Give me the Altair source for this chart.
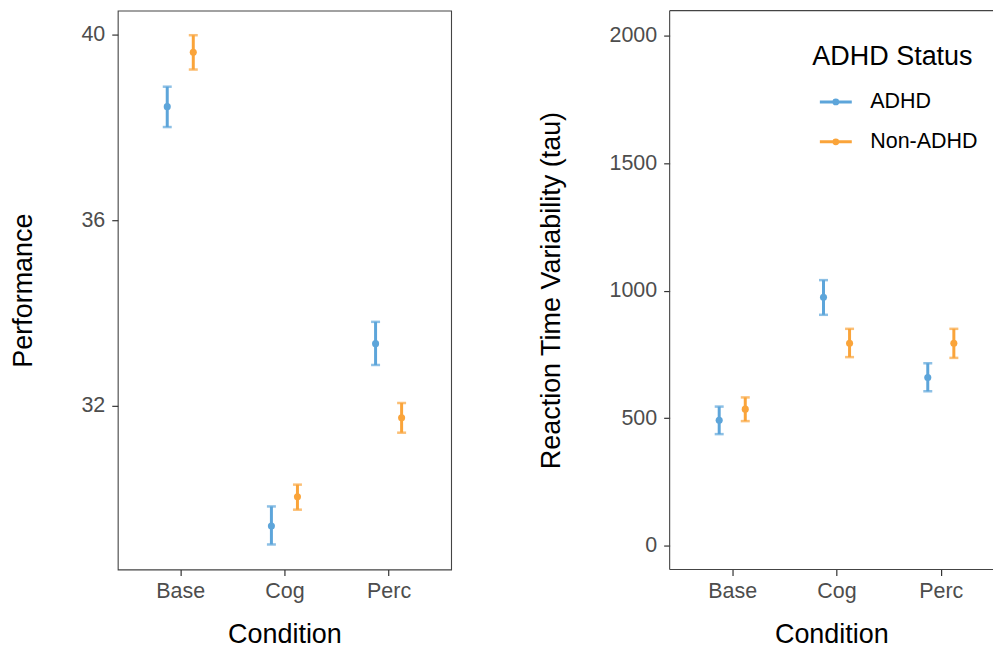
import altair as alt
import pandas as pd

conditions = ["Base", "Cog", "Perc"]
groups = ["ADHD", "Non-ADHD"]

perf_adhd_mean = [38.45, 29.41, 33.34]
perf_adhd_low = [38.01, 29.01, 32.88]
perf_adhd_high = [38.88, 29.83, 33.81]
perf_non_mean = [39.62, 30.04, 31.74]
perf_non_low = [39.25, 29.76, 31.42]
perf_non_high = [39.99, 30.30, 32.06]

rt_adhd_mean = [491, 974, 659]
rt_adhd_low = [437, 905, 605]
rt_adhd_high = [545, 1041, 715]
rt_non_mean = [535, 793, 793]
rt_non_low = [488, 739, 736]
rt_non_high = [581, 850, 850]

colors = ["#5DA5DA", "#FAA43A"]


def make_df(a_mean, a_low, a_high, n_mean, n_low, n_high):
    rows = []
    for i, c in enumerate(conditions):
        rows.append({"Condition": c, "Status": groups[0], "mean": a_mean[i], "low": a_low[i], "high": a_high[i]})
        rows.append({"Condition": c, "Status": groups[1], "mean": n_mean[i], "low": n_low[i], "high": n_high[i]})
    return pd.DataFrame(rows)


perf_df = make_df(perf_adhd_mean, perf_adhd_low, perf_adhd_high, perf_non_mean, perf_non_low, perf_non_high)
rt_df = make_df(rt_adhd_mean, rt_adhd_low, rt_adhd_high, rt_non_mean, rt_non_low, rt_non_high)

FONT = "Liberation Sans"
TITLE_SIZE = 27
LABEL_SIZE = 21.5
H = 560

xpos_expr = "indexof(['Base','Cog','Perc'], datum.Condition) + 1 + (datum.Status == 'ADHD' ? -0.125 : 0.125)"

color_scale = alt.Scale(domain=groups, range=colors)

legend_path = "M-1,0L1,0M-0.12,0A0.12,0.12,0,1,1,0.12,0A0.12,0.12,0,1,1,-0.12,0Z"


def panel(df, ytitle, ydomain, yvalues, xmax, with_legend):
    x_enc = alt.X(
        "xpos:Q",
        scale=alt.Scale(domain=[0.4, xmax], nice=False, zero=False),
        axis=alt.Axis(
            title="Condition",
            values=[1, 2, 3],
            labelExpr="['Base','Cog','Perc'][datum.value - 1]",
            grid=False,
            domain=False,
            tickSize=6,
            tickColor="#333333",
            tickWidth=1.2,
            labelPadding=5,
            titlePadding=20,
            labelFontSize=LABEL_SIZE,
            titleFontSize=TITLE_SIZE,
            labelColor="#4D4D4D",
            titleColor="black",
            titleFontWeight="normal",
            labelFont=FONT,
            titleFont=FONT,
        ),
    )
    y_axis = alt.Axis(
        title=ytitle,
        values=yvalues,
        format="d",
        grid=False,
        domain=False,
        tickSize=6,
        tickColor="#333333",
        tickWidth=1.2,
        labelPadding=7,
        titlePadding=44,
        labelFontSize=LABEL_SIZE,
        titleFontSize=TITLE_SIZE,
        labelColor="#4D4D4D",
        titleColor="black",
        titleFontWeight="normal",
        labelFont=FONT,
        titleFont=FONT,
    )
    yscale = alt.Scale(domain=ydomain, nice=False, zero=False)
    base = alt.Chart(df).transform_calculate(xpos=xpos_expr)

    if with_legend:
        leg = alt.Legend(
            title="ADHD Status",
            orient="none",
            legendX=143,
            legendY=33,
            titleFontSize=TITLE_SIZE,
            titleFont=FONT,
            titleFontWeight="normal",
            titleColor="black",
            titlePadding=14,
            labelFontSize=LABEL_SIZE,
            labelFont=FONT,
            labelColor="black",
            labelOffset=17,
            symbolType=legend_path,
            symbolSize=1024,
            symbolStrokeWidth=3,
            symbolOffset=6,
            rowPadding=12,
            padding=0,
        )
        color_rule = alt.Color("Status:N", scale=color_scale, legend=leg)
    else:
        color_rule = alt.Color("Status:N", scale=color_scale, legend=None)
    color_nolegend = alt.Color("Status:N", scale=color_scale, legend=None)

    rules = base.mark_rule(strokeWidth=3).encode(
        x=x_enc,
        y=alt.Y("low:Q", scale=yscale, axis=y_axis),
        y2="high:Q",
        color=color_rule,
    )
    cap_low = base.mark_tick(orient="horizontal", size=9, thickness=2.5).encode(
        x="xpos:Q", y="low:Q", color=color_nolegend
    )
    cap_high = base.mark_tick(orient="horizontal", size=9, thickness=2.5).encode(
        x="xpos:Q", y="high:Q", color=color_nolegend
    )
    pts = base.mark_circle(size=50, opacity=1).encode(
        x="xpos:Q", y="mean:Q", color=color_nolegend
    )
    return [rules, cap_low, cap_high, pts]


left_layers = panel(perf_df, "Performance", [28.47, 40.52], [32, 36, 40], 3.6, False)
left = alt.layer(*left_layers).properties(width=334, height=H)

RW = 324
right_layers = panel(rt_df, "Reaction Time Variability (tau)", [-94, 2098], [0, 500, 1000, 1500, 2000], 0.4 + RW / 104.5, True)
border_df = pd.DataFrame({"k": [0]})
frame_color = "#444444"
border_left = alt.Chart(border_df).mark_rule(color=frame_color, strokeWidth=1.1).encode(
    x=alt.value(0), y=alt.value(0), y2=alt.value(H)
)
border_top = alt.Chart(border_df).mark_rule(color=frame_color, strokeWidth=1.1).encode(
    x=alt.value(0), x2=alt.value(RW), y=alt.value(0)
)
border_bottom = alt.Chart(border_df).mark_rule(color=frame_color, strokeWidth=1.1).encode(
    x=alt.value(0), x2=alt.value(RW), y=alt.value(H)
)
right = alt.layer(*right_layers, border_left, border_top, border_bottom).properties(
    width=RW, height=H, view=alt.ViewBackground(stroke="transparent")
)

chart = (
    alt.hconcat(left, right, spacing=84)
    .resolve_legend(color="independent")
    .properties(padding={"left": 8, "top": 8, "right": 0, "bottom": 0}, background="white")
    .configure_view(stroke=frame_color, strokeWidth=1.1)
)

chart.save("out.html", embed_options={"renderer": "svg", "actions": False})
